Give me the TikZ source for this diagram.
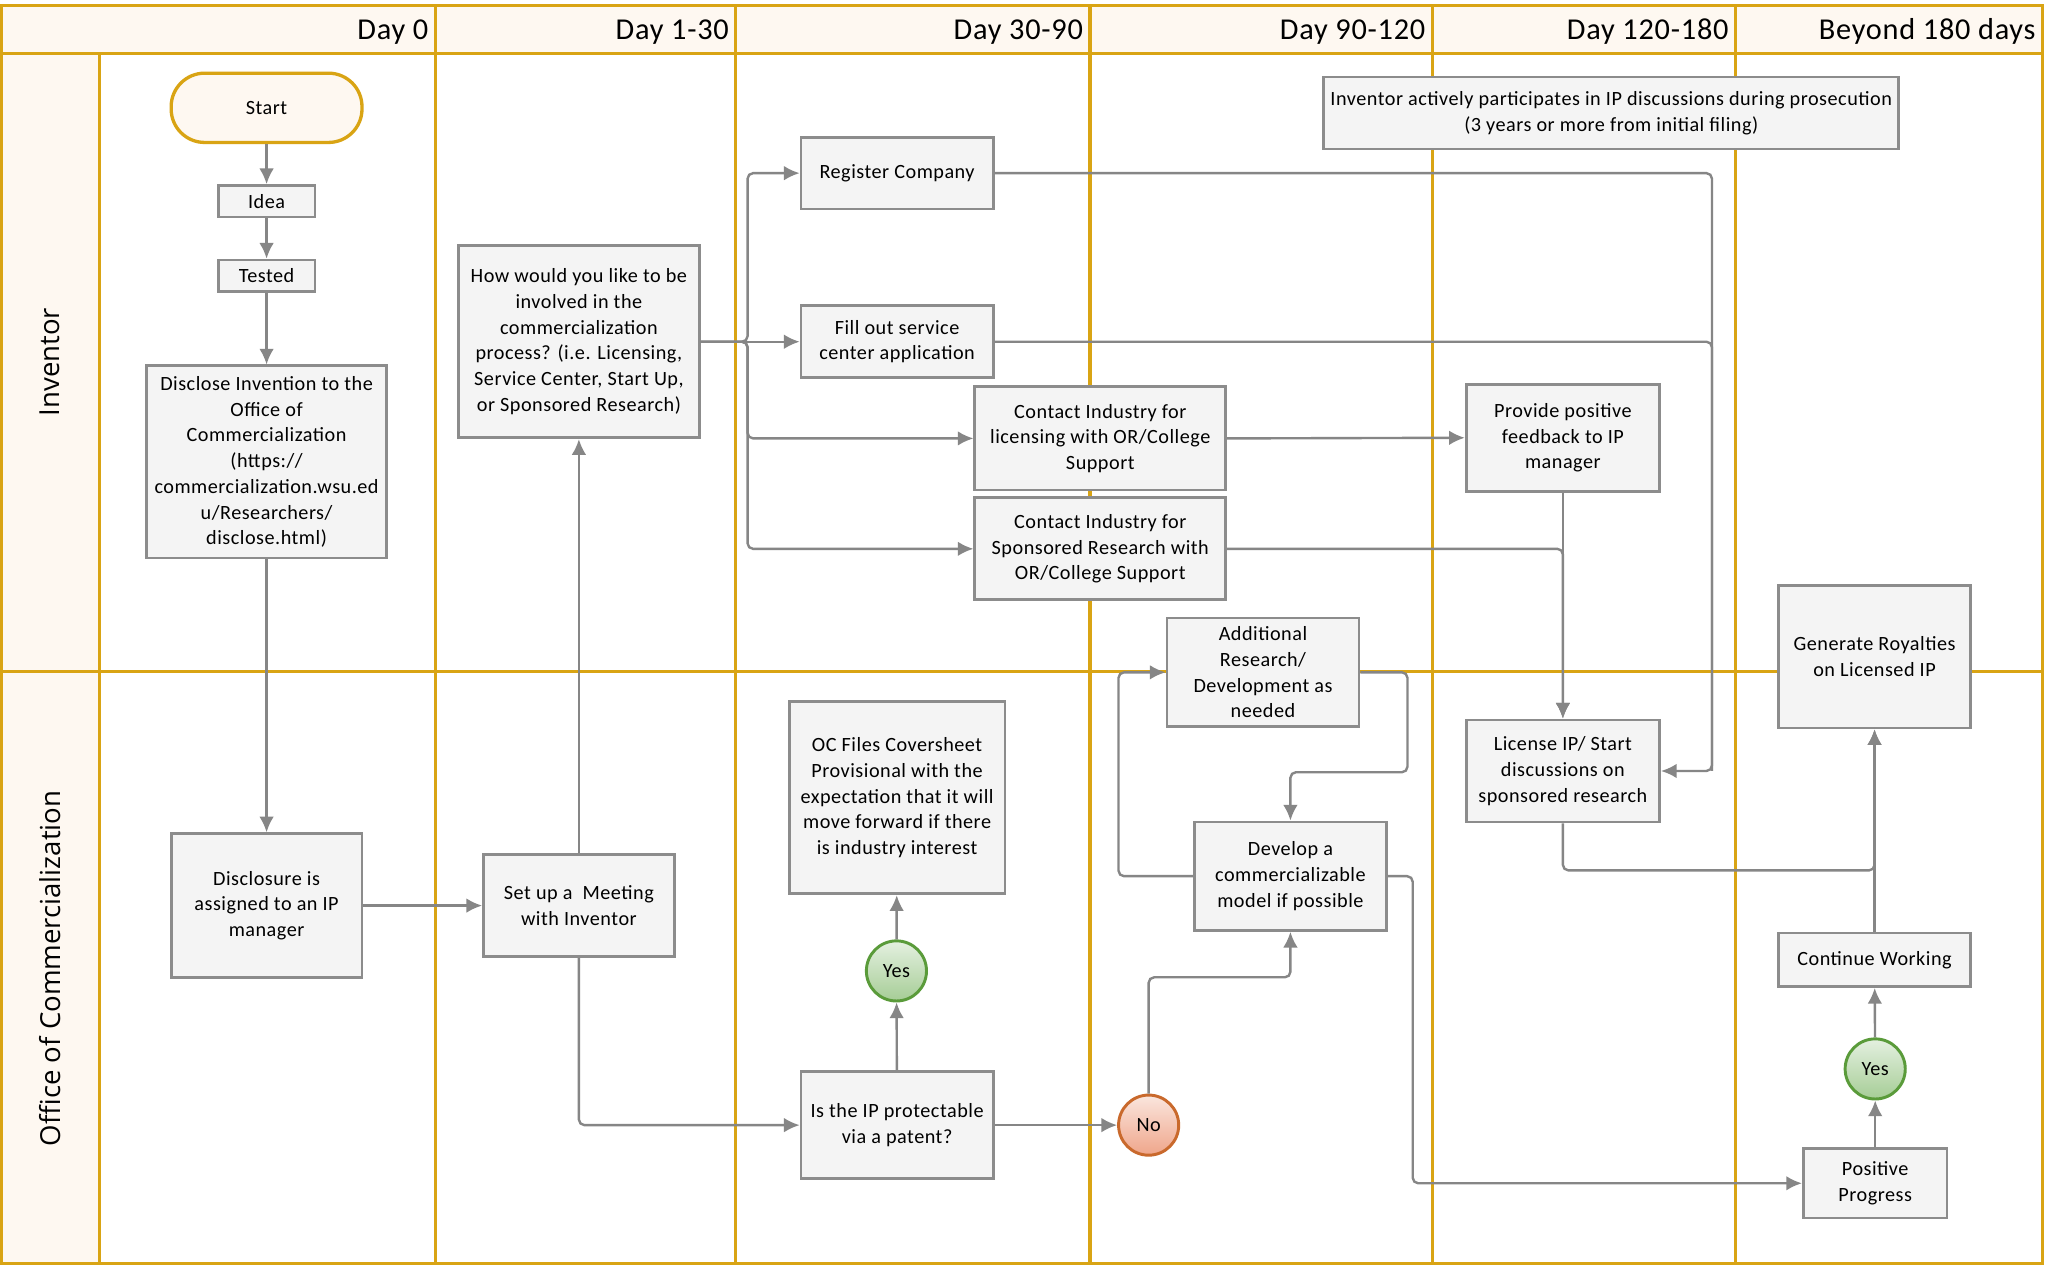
\documentclass[tikz,border=0pt]{standalone}
\usepackage{fontspec}
\setmainfont{Carlito}[LetterSpace=2.5]
\newfontfamily\lanefont{Open Sans}
\usepackage{tikz}
\usetikzlibrary{calc,arrows.meta}

\definecolor{swim}{RGB}{217,164,20}
\definecolor{cream}{RGB}{254,248,241}
\definecolor{boxfill}{RGB}{244,244,244}
\definecolor{boxline}{RGB}{140,140,140}
\definecolor{wire}{RGB}{134,134,134}
\definecolor{yestop}{RGB}{228,240,224}
\definecolor{yesbot}{RGB}{166,205,150}
\definecolor{yesline}{RGB}{90,155,58}
\definecolor{notop}{RGB}{250,230,222}
\definecolor{nobot}{RGB}{239,165,138}
\definecolor{noline}{RGB}{201,105,44}

\begin{document}
\begin{tikzpicture}[x=0.025cm,y=-0.025cm,
    swimline/.style={draw=swim,line width=1.8pt},
    daylabel/.style={anchor=base east,inner sep=0pt,font=\fontsize{16.5}{19}\selectfont},
    lanelabel/.style={rotate=90,inner sep=0pt,font=\lanefont\fontsize{15}{18}\selectfont},
    procbox/.style={draw=boxline,fill=boxfill,line width=1.5pt,align=center,inner sep=1pt,
        font=\fontsize{11}{14}\selectfont},
    startbox/.style={procbox,draw=swim,fill=cream,line width=1.8pt,rounded corners=0.64cm},
    yescirc/.style={circle,draw=yesline,top color=yestop,bottom color=yesbot,line width=1.6pt,
        minimum size=1.15cm,inner sep=0pt,font=\fontsize{11}{14}\selectfont},
    nocirc/.style={yescirc,draw=noline,top color=notop,bottom color=nobot},
    flowline/.style={draw=wire,line width=1.3pt,rounded corners=3pt},
    flowarrow/.style={flowline,-{Latex[length=3mm,width=2.8mm]}}]

    \useasboundingbox (0,0) rectangle (1568,968);
    \fill[white] (0,0) rectangle (1568,968);

    % swim lanes
    \fill[cream] (1,4) rectangle (1563,41);
    \fill[cream] (1,41) rectangle (76,967);
    \draw[swimline] (1,4) rectangle (1563,967);
    \draw[swimline] (1,41) -- (1563,41);
    \draw[swimline] (1,514) -- (1563,514);
    \draw[swimline] (76,41) -- (76,967);
    \foreach \x in {333,563,834,1096,1328}
        \draw[swimline] (\x,4) -- (\x,967);
    \foreach \x/\day in {333/Day 0,563/Day 1-30,834/Day 30-90,1096/Day 90-120,1328/Day 120-180,1563/Beyond 180 days}
        \node[daylabel] (day\x) at (\x-5,30) {\day};
    \node[lanelabel] (laneinv) at (38,277) {Inventor};
    \node[lanelabel] (laneoc) at (38,741) {Office of Commercialization};

    % Day 0
    \node[startbox,minimum width=3.65cm,minimum height=1.325cm] (start) at (204,82.5) {Start};
    \node[procbox,minimum width=1.85cm,minimum height=0.6cm] (idea) at (204,154) {Idea};
    \node[procbox,minimum width=1.85cm,minimum height=0.6cm] (tested) at (204,211) {Tested};
    \node[procbox,minimum width=4.6cm,minimum height=3.675cm] (disc) at (204,353.5)
        {Disclose Invention to the\\Office of\\Commercialization\\(https://\\commercialization.wsu.ed\\u/Researchers/\\disclose.html)};
    \node[procbox,minimum width=3.65cm,minimum height=2.75cm] (assign) at (204,693)
        {Disclosure is\\assigned to an IP\\manager};

    % Day 1-30
    \node[procbox,minimum width=3.65cm,minimum height=1.95cm] (meet) at (443,693)
        {Set up a\ \ Meeting\\with Inventor};
    \node[procbox,minimum width=4.6cm,minimum height=3.675cm] (how) at (443,261.5)
        {How would you like to be\\involved in the\\commercialization\\process? (i.e. Licensing,\\Service Center, Start Up,\\or Sponsored Research)};

    % Day 30-90
    \node[procbox,minimum width=3.675cm,minimum height=1.375cm] (reg) at (686.5,132.5) {Register Company};
    \node[procbox,minimum width=3.675cm,minimum height=1.375cm] (fill) at (686.5,261.5)
        {Fill out service\\center application};
    \node[procbox,minimum width=4.8cm,minimum height=1.975cm] (clic) at (842,335.5)
        {Contact Industry for\\licensing with OR/College\\Support};
    \node[procbox,minimum width=4.8cm,minimum height=1.95cm] (cspon) at (842,420)
        {Contact Industry for\\Sponsored Research with\\OR/College Support};
    \node[procbox,minimum width=4.125cm,minimum height=3.675cm] (ocfile) at (686.5,610.5)
        {OC Files Coversheet\\Provisional with the\\expectation that it will\\move forward if there\\is industry interest};
    \node[yescirc] (yesa) at (686,743) {Yes};
    \node[procbox,minimum width=3.675cm,minimum height=2.05cm] (prot) at (686.5,861)
        {Is the IP protectable\\via a patent?};

    % Day 90-120
    \node[nocirc] (no) at (879,861) {No};
    \node[procbox,minimum width=3.675cm,minimum height=2.075cm] (add) at (966.5,514.5)
        {Additional\\Research/\\Development as\\needed};
    \node[procbox,minimum width=3.675cm,minimum height=2.075cm] (dev) at (987.5,670.5)
        {Develop a\\commercializable\\model if possible};
    \node[procbox,minimum width=11cm,minimum height=1.375cm,inner sep=0pt] (active) at (1233,86.5)
        {Inventor actively participates in IP discussions during prosecution\\(3 years or more from initial filing)};

    % Day 120-180
    \node[procbox,minimum width=3.7cm,minimum height=2.05cm] (prov) at (1196,335)
        {Provide positive\\feedback to IP\\manager};
    \node[procbox,minimum width=3.7cm,minimum height=1.95cm] (licip) at (1196,590)
        {License IP/ Start\\discussions on\\sponsored research};

    % Beyond 180 days
    \node[procbox,minimum width=3.675cm,minimum height=2.725cm] (gen) at (1434.5,502.5)
        {Generate Royalties\\on Licensed IP};
    \node[procbox,minimum width=3.675cm,minimum height=1.025cm] (cont) at (1434.5,734.5) {Continue Working};
    \node[yescirc] (yesb) at (1435,818) {Yes};
    \node[procbox,minimum width=2.75cm,minimum height=1.325cm] (prog) at (1435,905.5)
        {Positive\\Progress};

    % connectors
    \draw[flowarrow] (start) -- (idea);
    \draw[flowarrow] (idea) -- (tested);
    \draw[flowarrow] (tested) -- (disc);
    \draw[flowarrow] (disc) -- (assign);
    \draw[flowarrow] (assign) -- (meet);
    \draw[flowarrow] (meet) -- (how);
    \draw[flowarrow] (meet.south) |- (prot.west);
    \draw[flowarrow] (how.east) -- ++(36,0) |- (reg.west);
    \draw[flowarrow] (how.east) -- (fill.west);
    \draw[flowarrow] (how.east) -- ++(36,0) |- (clic.west);
    \draw[flowarrow] (how.east) -- ++(36,0) |- (cspon.west);
    \draw[flowarrow] (reg.east) -| ($(licip.east)+(39,0)$) -- (licip.east);
    \draw[flowline] (fill.east) -| ($(licip.east)+(39,0)$);
    \draw[flowarrow] (clic.east) -- (prov.west);
    \draw[flowarrow] (cspon.east) -| (licip.north);
    \draw[flowarrow] (prov.south) -- (licip.north);
    \draw[flowarrow] (licip.south) -- ++(0,36) -| (gen.south);
    \draw[flowarrow] (prot) -- (yesa);
    \draw[flowarrow] (yesa) -- (ocfile);
    \draw[flowarrow] (prot) -- (no);
    \draw[flowarrow] (no.north) -- ++(0,-89) -| (dev.south);
    \draw[flowarrow] (dev.west) -- ++(-57,0) |- (add.west);
    \draw[flowarrow] (add.east) -- ++(36,0) |- ($(dev.north)+(0,-37)$) -- (dev.north);
    \draw[flowarrow] (dev.east) -- ++(19,0) |- (prog.west);
    \draw[flowarrow] (prog) -- (yesb);
    \draw[flowarrow] (yesb) -- (cont);
    \draw[flowarrow] (cont) -- (gen);
\end{tikzpicture}
\end{document}
